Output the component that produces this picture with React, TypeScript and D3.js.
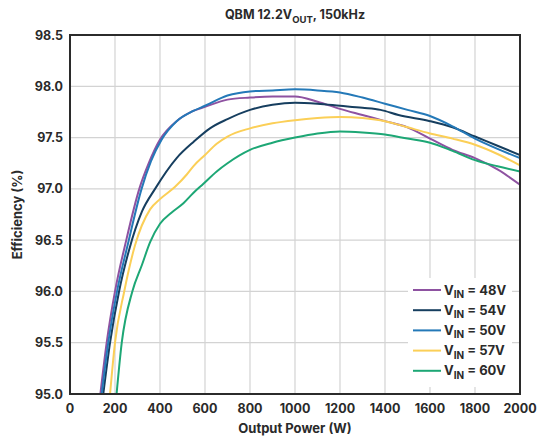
import React from 'react';
import * as d3 from 'd3';

// [output power (W), efficiency (%)]
const vin48: [number, number][] = [
  [135, 95.0], [163, 95.5], [200, 96.0], [250, 96.5], [308, 97.0], [350, 97.25],
  [400, 97.48], [474, 97.66], [548, 97.76], [600, 97.8], [700, 97.87], [800, 97.89],
  [900, 97.9], [1000, 97.9], [1100, 97.85], [1200, 97.78], [1300, 97.72], [1400, 97.66],
  [1500, 97.6], [1600, 97.49], [1700, 97.38], [1800, 97.3], [1900, 97.19], [2000, 97.04],
];
const vin54: [number, number][] = [
  [148, 95.0], [178, 95.5], [218, 96.0], [262, 96.4], [320, 96.78], [378, 97.0],
  [474, 97.3], [550, 97.46], [622, 97.59], [700, 97.68], [800, 97.77], [900, 97.82],
  [1000, 97.84], [1100, 97.83], [1200, 97.81], [1300, 97.79], [1380, 97.77], [1460, 97.72],
  [1600, 97.66], [1700, 97.6], [1800, 97.51], [1900, 97.42], [2000, 97.33],
];
const vin50: [number, number][] = [
  [141, 95.0], [170, 95.5], [209, 96.0], [256, 96.45], [318, 97.0], [360, 97.27],
  [407, 97.48], [474, 97.66], [548, 97.76], [600, 97.81], [700, 97.91], [800, 97.95],
  [900, 97.96], [1000, 97.97], [1100, 97.96], [1200, 97.94], [1300, 97.89], [1400, 97.83],
  [1500, 97.77], [1600, 97.71], [1700, 97.61], [1800, 97.49], [1900, 97.39], [2000, 97.3],
];
const vin57: [number, number][] = [
  [178, 95.0], [200, 95.5], [241, 96.0], [289, 96.45], [356, 96.8], [400, 96.9],
  [467, 97.02], [519, 97.14], [548, 97.22], [600, 97.33], [652, 97.44], [700, 97.51],
  [800, 97.59], [900, 97.64], [1000, 97.67], [1100, 97.69], [1200, 97.7], [1300, 97.69],
  [1400, 97.66], [1500, 97.6], [1600, 97.54], [1700, 97.49], [1800, 97.43], [1900, 97.34],
  [2000, 97.23],
];
const vin60: [number, number][] = [
  [207, 95.0], [230, 95.5], [277, 96.0], [320, 96.26], [356, 96.48], [400, 96.66],
  [452, 96.77], [504, 96.86], [548, 96.96], [593, 97.05], [652, 97.17], [700, 97.25],
  [800, 97.38], [900, 97.45], [1000, 97.5], [1100, 97.54], [1200, 97.56], [1300, 97.55],
  [1400, 97.53], [1500, 97.49], [1600, 97.45], [1700, 97.37], [1800, 97.28], [1900, 97.22],
  [2000, 97.17],
];

const legendLabels = ['48V', '54V', '50V', '57V', '60V'];
const seriesData = [vin48, vin54, vin50, vin57, vin60];
const colors = ['#8e52a1', '#163e5f', '#2479b8', '#fbcf57', '#1da775'];

const xTicks = [0, 200, 400, 600, 800, 1000, 1200, 1400, 1600, 1800, 2000];
const yTicks = [95.0, 95.5, 96.0, 96.5, 97.0, 97.5, 98.0, 98.5];

const W = 545;
const H = 441;
const margin = { top: 35, right: 25, bottom: 47, left: 70 };
const font = "Inter, 'Noto Sans', sans-serif";
const ink = '#2a2a2a';

export default function App() {
  const iw = W - margin.left - margin.right;
  const ih = H - margin.top - margin.bottom;

  const x = d3.scaleLinear().domain([0, 2000]).range([0, iw]);
  const y = d3.scaleLinear().domain([95, 98.5]).range([ih, 0]);

  const line = d3.line<[number, number]>()
    .x(d => x(d[0]))
    .y(d => y(d[1]))
    .curve(d3.curveMonotoneX);

  // legend box in plot coordinates
  const lg = { x: 338, y: 243, w: 104, h: 109 };

  return (
    <div style={{ position: 'absolute', left: 0, top: 0 }}>
      <svg width={W} height={H} style={{ display: 'block', background: '#fff' }}>
        <text x={295} y={19} textAnchor="middle" fontFamily={font} fontWeight={700}
          fontSize={12.5} fill={ink}>
          QBM 12.2V<tspan fontSize={9.5} dy={3.5}>OUT</tspan><tspan dy={-3.5}>, 150kHz</tspan>
        </text>

        <defs>
          <clipPath id="plot-clip">
            <rect x={0} y={0} width={iw} height={ih} />
          </clipPath>
        </defs>

        <g transform={`translate(${margin.left},${margin.top})`}>
          {/* grid */}
          {xTicks.slice(1, -1).map(t => (
            <line key={`gx${t}`} x1={x(t)} x2={x(t)} y1={0} y2={ih}
              stroke="#d3d3d3" strokeWidth={1.2} />
          ))}
          {yTicks.slice(1, -1).map(t => (
            <line key={`gy${t}`} x1={0} x2={iw} y1={y(t)} y2={y(t)}
              stroke="#d3d3d3" strokeWidth={1.2} />
          ))}

          {/* curves */}
          <g clipPath="url(#plot-clip)">
            {seriesData.map((s, i) => (
              <path key={i} d={line(s) || ''} fill="none" stroke={colors[i]}
                strokeWidth={2} strokeLinejoin="round" />
            ))}
          </g>

          {/* legend */}
          <rect x={lg.x} y={lg.y} width={lg.w} height={lg.h} fill="#fff" />
          {legendLabels.map((lab, i) => {
            const ly = lg.y + 12 + i * 20.2;
            return (
              <g key={lab}>
                <line x1={lg.x + 5} x2={lg.x + 33} y1={ly} y2={ly}
                  stroke={colors[i]} strokeWidth={2} />
                <text x={lg.x + 36} y={ly + 4.5} fontFamily={font} fontWeight={700}
                  fontSize={13} fill={ink}>
                  V<tspan fontSize={10} dy={3.5}>IN</tspan><tspan dy={-3.5}>{` = ${lab}`}</tspan>
                </text>
              </g>
            );
          })}

          {/* frame */}
          <rect x={0} y={0} width={iw} height={ih} fill="none" stroke="#2b2b2b" strokeWidth={2} />

          {/* tick labels */}
          {yTicks.map(t => (
            <text key={`ty${t}`} x={-7} y={y(t)} dy="0.36em" textAnchor="end"
              fontFamily={font} fontWeight={700} fontSize={12.5} fill={ink}>
              {d3.format('.1f')(t)}
            </text>
          ))}
          {xTicks.map(t => (
            <text key={`tx${t}`} x={x(t)} y={ih + 19} textAnchor="middle"
              fontFamily={font} fontWeight={700} fontSize={12.5} fill={ink}>
              {t}
            </text>
          ))}

          {/* axis titles */}
          <text x={iw / 2} y={ih + 39} textAnchor="middle" fontFamily={font}
            fontWeight={700} fontSize={13} fill={ink}>
            Output Power (W)
          </text>
          <text transform={`translate(${-48},${ih / 2}) rotate(-90)`} textAnchor="middle"
            fontFamily={font} fontWeight={700} fontSize={13} fill={ink}>
            Efficiency (%)
          </text>
        </g>
      </svg>
    </div>
  );
}
